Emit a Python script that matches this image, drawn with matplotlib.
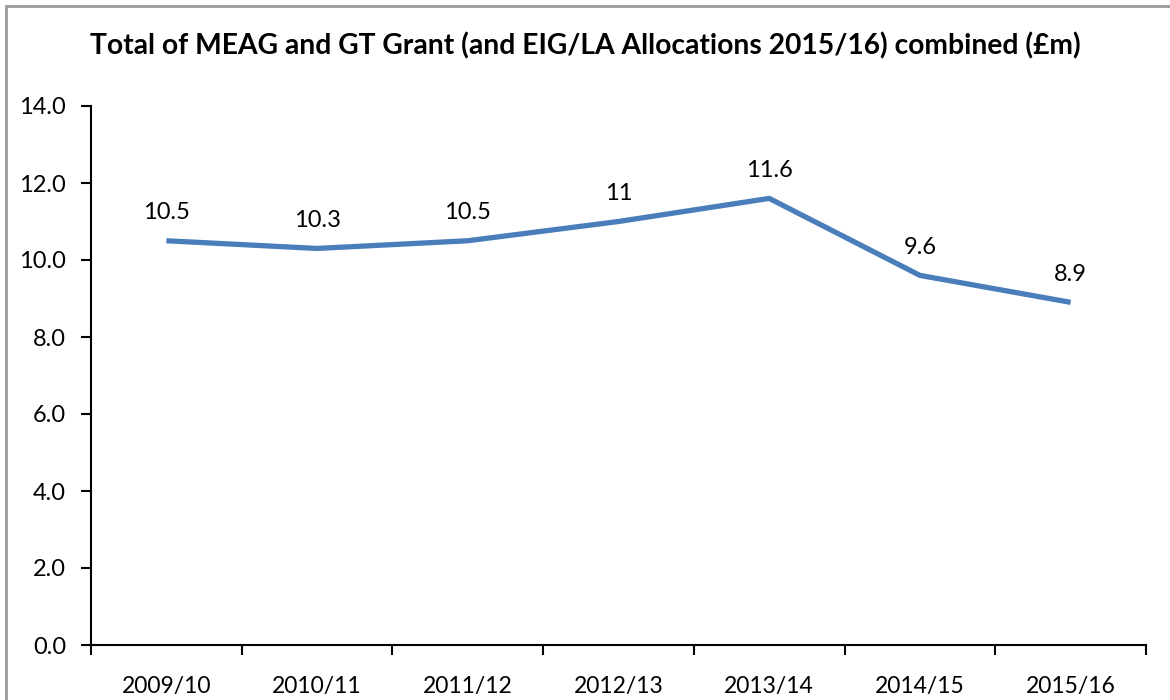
import matplotlib.pyplot as plt
from matplotlib.patches import Rectangle

years = ['2009/10', '2010/11', '2011/12', '2012/13', '2013/14', '2014/15', '2015/16']
totals = [10.5, 10.3, 10.5, 11.0, 11.6, 9.6, 8.9]
point_labels = ['10.5', '10.3', '10.5', '11', '11.6', '9.6', '8.9']
yticks = [0, 2, 4, 6, 8, 10, 12, 14]

plt.rcParams['font.family'] = ['Lato', 'DejaVu Sans']

fig = plt.figure(figsize=(11.7, 7), dpi=100)
ax = fig.add_axes([91 / 1170, 55 / 700, (1146 - 91) / 1170, (645 - 106) / 700])

# grey frame round the chart, cut off at right and bottom like the original
fig.patches.append(Rectangle((6 / 1170, -0.1), 1.2, (700 - 6) / 700 + 0.1,
                             transform=fig.transFigure, fill=False,
                             edgecolor='#9a9a9a', linewidth=2))

x = range(len(years))
ax.plot(x, totals, color='#4a7ebb', linewidth=3.8, solid_capstyle='butt')
for i, (v, lab) in enumerate(zip(totals, point_labels)):
    ax.annotate(lab, (i, v), xytext=(0, 20), textcoords='offset points',
                ha='center', va='center', fontsize=17)

ax.set_xlim(-0.5, len(years) - 0.5)
ax.set_ylim(0, 14)
ax.set_yticks(yticks)
ax.set_yticklabels([f'{t:.1f}' for t in yticks], fontsize=17)
ax.set_xticks(list(x))
ax.set_xticklabels(years, fontsize=16.5)
ax.tick_params(axis='x', length=0, pad=22)
ax.set_xticks([i - 0.5 for i in range(len(years) + 1)], minor=True)
ax.tick_params(axis='x', which='minor', length=7, width=1.5, direction='out')
ax.tick_params(axis='y', length=7, width=1.5, direction='out', pad=11)
for s in ['top', 'right']:
    ax.spines[s].set_visible(False)
for s in ['left', 'bottom']:
    ax.spines[s].set_linewidth(1.5)

fig.text(0.5, 1 - 46 / 700, 'Total of MEAG and GT Grant (and EIG/LA Allocations 2015/16) combined (£m)',
         ha='center', va='center', fontsize=20.3, fontweight='bold')

fig.savefig('out.png', dpi=100)
